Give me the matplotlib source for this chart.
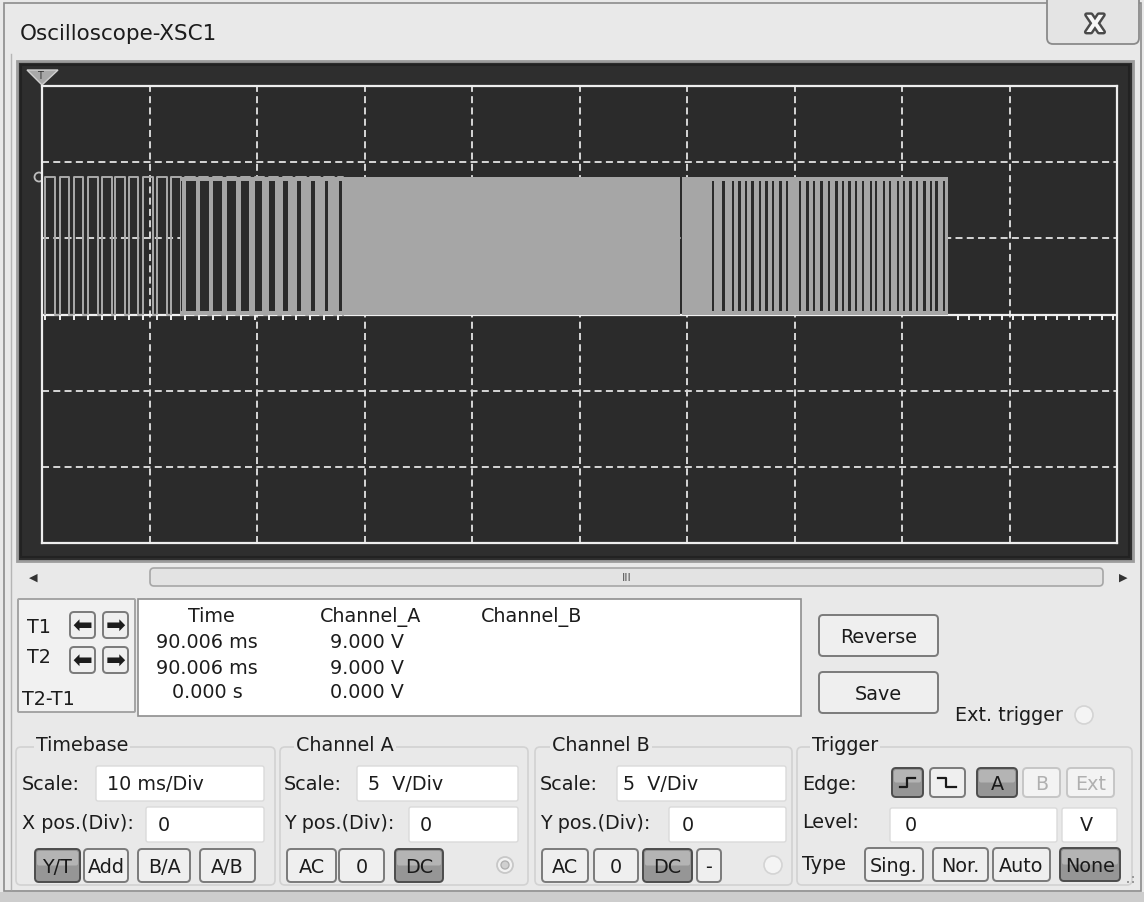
#!/usr/bin/env python3
"""
Oscilloscope-XSC1 window: PWM burst on channel A, 10 ms/Div, 5 V/Div
"""

import matplotlib.pyplot as plt
import matplotlib.patheffects as pe
from matplotlib.patches import FancyBboxPatch, Rectangle, Circle, Polygon

plt.rcParams['font.family'] = ['DejaVu Sans']

# ---- scope settings / readings ----
time_div_ms = 10
volt_div = 5
n_xdiv, n_ydiv = 10, 6
high_v = 9.0

# slow pulses at the start of the burst (ms)
rise_ms = [0.28, 1.67, 2.98, 4.31, 5.55, 6.79, 8.09, 9.43, 10.72, 12.02,
           13.31, 14.61, 15.90, 17.20, 18.49, 19.79, 21.08, 22.38, 23.67,
           24.97, 26.26, 27.56]
fall_ms = [1.21, 2.54, 3.84, 5.18, 6.48, 7.72, 8.96, 10.30, 11.60, 12.89,
           14.19, 15.48, 16.78, 18.07, 19.37, 20.66, 21.96, 23.25, 24.55,
           25.84, 27.14, 28.00]

# spans (ms) where switching is too fast to resolve -> solid band
dense_ms = [(12.9, 59.35), (59.55, 84.3)]
# quiet gaps inside the solid band (centre ms, width ms)
gap_centre_ms = [12.95, 13.83, 15.11, 16.35, 17.63, 18.89, 20.14, 21.38, 22.65,
                 23.92, 25.20, 26.46, 27.74,
                 62.4, 63.4, 64.3, 64.9, 65.5, 66.1, 66.8, 67.4, 68.0, 68.7,
                 69.3, 70.5, 71.2, 71.8, 72.5, 73.2, 73.9, 74.5, 75.1, 75.7,
                 76.4, 77.1, 77.6, 78.3, 78.9, 79.6, 80.2, 80.8, 81.4, 82.1,
                 82.7, 83.2, 83.9]
gap_width_ms = [0.1, 0.95, 0.9, 0.8, 0.75, 0.7, 0.6, 0.5, 0.45, 0.4, 0.35,
                0.3, 0.25,
                0.22, 0.22, 0.22, 0.22, 0.22, 0.22, 0.22, 0.22, 0.22, 0.22,
                0.22, 0.22, 0.22, 0.22, 0.22, 0.22, 0.22, 0.22, 0.22, 0.22,
                0.22, 0.22, 0.22, 0.22, 0.22, 0.22, 0.22, 0.22, 0.22, 0.22,
                0.22, 0.22, 0.22]
# little ripple notches on the 0 V line after the burst (ms)
ripple_ms = [85.2, 86.2, 87.3, 88.2, 89.3, 90.3, 91.3, 92.4, 93.4, 94.4,
             95.5, 96.5, 97.5, 98.6, 99.6]

cursor_cols = ['Time', 'Channel_A', 'Channel_B']
cursor_time = ['90.006 ms', '90.006 ms', '0.000 s']
cursor_cha = ['9.000 V', '9.000 V', '0.000 V']

W, H = 1144, 903
BG = '#e9e9e9'
TXT = '#1c1c1c'
FS = 13.8

fig = plt.figure(figsize=(W / 100, H / 100), dpi=100)
fig.patch.set_facecolor(BG)

ui = fig.add_axes([0, 0, 1, 1])
ui.set_xlim(0, W)
ui.set_ylim(H, 0)
ui.axis('off')


def box(x0, y0, x1, y1, fc='none', ec='#9a9a9a', lw=1.2, r=3, z=1):
    p = FancyBboxPatch((x0, y0), x1 - x0, y1 - y0,
                       boxstyle=f'round,pad=0,rounding_size={r}',
                       fc=fc, ec=ec, lw=lw, zorder=z)
    ui.add_patch(p)


def txt(x, y, s, ha='left', fs=FS, color=TXT, **kw):
    ui.text(x, y, s, ha=ha, va='center', fontsize=fs, color=color, **kw)


def button(x0, x1, y0, y1, label, state='normal', fs=FS):
    if state == 'pressed':
        fc, ec, tc = '#969696', '#4c4c4c', '#1a1a1a'
    elif state == 'disabled':
        fc, ec, tc = '#f3f3f3', '#c6c6c6', '#b0b0b0'
    else:
        fc, ec, tc = '#efefef', '#7a7a7a', TXT
    box(x0, y0, x1, y1, fc=fc, ec=ec, lw=1.4, r=4, z=2)
    if state == 'pressed':
        box(x0 + 2, y0 + 2, x1 - 2, (y0 + y1) / 2, fc='#b4b4b4', ec='none', r=2, z=2)
    if label:
        txt((x0 + x1) / 2, (y0 + y1) / 2 + 1, label, ha='center', fs=fs, color=tc, zorder=3)


def field(x0, x1, y0, y1, s=None, tx=None):
    box(x0, y0, x1, y1, fc='white', ec='#dadada', lw=1.0, r=2, z=1)
    if s is not None:
        txt(tx, (y0 + y1) / 2, s)


# ---- window frame ----
ui.add_patch(Rectangle((4, 4), 1137, 888, fc=BG, ec='#8c8c8c', lw=1.2, zorder=0))
ui.add_patch(Rectangle((0, 893), W, 10, fc='#cdcdcd', ec='none', zorder=0))
ui.plot([11, 11], [55, 890], color='#b5b5b5', lw=1)
txt(20, 34, 'Oscilloscope-XSC1', fs=15.5)

# close button
box(1047, -6, 1139, 45, fc='#e4e4e4', ec='#8a8a8a', lw=1.3, r=6)
ui.text(1095, 26, 'X', ha='center', va='center', fontsize=17, fontweight='bold',
        color='#f8f8f8', zorder=3,
        path_effects=[pe.withStroke(linewidth=3.5, foreground='#4a4a4a')])

# dark screen panel
ui.add_patch(Rectangle((17, 62), 1116, 500, fc='#2e2e2e', ec='#9c9c9c', lw=2, zorder=1))
ui.add_patch(Rectangle((21, 66), 1108, 492, fc='none', ec='#222222', lw=1.5, zorder=1))

# ---- scope screen ----
px0, py0, px1, py1 = 42, 87, 1117, 544
scope = fig.add_axes([px0 / W, 1 - py1 / H, (px1 - px0) / W, (py1 - py0) / H])
t_max = n_xdiv * time_div_ms
v_max = n_ydiv / 2 * volt_div
scope.set_xlim(0, t_max)
scope.set_ylim(-v_max, v_max)
scope.set_facecolor('#2b2b2b')
scope.set_xticks([])
scope.set_yticks([])
for s in scope.spines.values():
    s.set_color('#eeeeee')
    s.set_linewidth(1.6)

dash = (0, (3.6, 2.2))
for k in range(1, n_xdiv):
    scope.axvline(k * time_div_ms, color='#d6d6d6', lw=1.4, ls=dash, zorder=1)
for k in range(1, n_ydiv):
    scope.axhline(-v_max + k * volt_div, color='#d6d6d6', lw=1.4, ls=dash, zorder=1)

# 0 V baseline
scope.axhline(0, color='#f0f0f0', lw=1.6, zorder=3)

# slow outline pulses
tt, vv = [], []
for r, f in zip(rise_ms, fall_ms):
    tt += [r, r, f, f]
    vv += [0, high_v, high_v, 0]
scope.plot(tt, vv, color='#ababab', lw=1.4, zorder=4)
scope.vlines(rise_ms, -0.35, 0, color='#f0f0f0', lw=1.4, zorder=4)

# solid fast-switching band with its quiet gaps
scope.broken_barh([(a, b - a) for a, b in dense_ms], (0, high_v),
                  facecolor='#a6a6a6', edgecolor='none', zorder=5)
scope.broken_barh([(c - w / 2, w) for c, w in zip(gap_centre_ms, gap_width_ms)],
                  (0.25, high_v - 0.5), facecolor='#2b2b2b', edgecolor='none', zorder=6)
scope.vlines(ripple_ms, -0.35, 0, color='#f0f0f0', lw=1.4, zorder=4)

# trigger marker and channel level marker
ui.add_patch(Polygon([[27, 71], [58, 71], [42, 86]], closed=True, fc='#a8a8a8', ec='#cfcfcf', lw=1, zorder=5))
txt(40, 76, 'T', ha='center', fs=7, color='#333333', zorder=6)
ui.add_patch(Circle((39, 178), 4.5, fc='none', ec='#bdbdbd', lw=1.3, zorder=5))

# ---- scroll bar ----
txt(33, 578, '◀', ha='center', fs=8, color='#333333')
box(150, 569, 1103, 587, fc='#e3e3e3', ec='#a6a6a6', lw=1.2, r=4)
txt(627, 578, 'III', ha='center', fs=8, color='#555555')
txt(1123, 578, '▶', ha='center', fs=8, color='#333333')

# ---- cursor readout ----
box(18, 600, 135, 713, fc='#f1f1f1', ec='#a4a4a4', lw=1.4, r=1)
ui.add_patch(Rectangle((138, 600), 663, 117, fc='white', ec='#8e8e8e', lw=1.2, zorder=1))
txt(27, 628, 'T1')
txt(27, 658, 'T2')
txt(22, 700, 'T2-T1')
for yy in (626, 661):
    button(70, 95, yy - 13, yy + 13, '')
    button(103, 128, yy - 13, yy + 13, '')
    txt(82.5, yy, '⬅', ha='center', fs=17, zorder=4)
    txt(115.5, yy, '➡', ha='center', fs=17, zorder=4)

col_x = [211, 371, 532]
for x, s in zip(col_x, cursor_cols):
    txt(x, 617, s, ha='center')
for y, a, b in zip([643, 669, 693], cursor_time, cursor_cha):
    txt(207, y, a, ha='center')
    txt(367, y, b, ha='center')

button(819, 938, 616, 657, 'Reverse')
button(819, 938, 673, 714, 'Save')
txt(955, 716, 'Ext. trigger')
ui.add_patch(Circle((1084, 716), 9, fc='#f4f4f4', ec='#d4d4d4', lw=1.2, zorder=2))


# ---- control groups ----
def group(x0, x1, label, lx):
    box(x0, 748, x1, 886, ec='#d2d2d2', lw=1.2, r=5)
    txt(lx, 746, label, bbox=dict(fc=BG, ec='none', pad=1.5))


group(16, 275, 'Timebase', 36)
txt(22, 785, 'Scale:')
field(96, 264, 767, 802, '10 ms/Div', 107)
txt(22, 824, 'X pos.(Div):')
field(146, 264, 808, 843, '0', 158)
button(35, 80, 850, 883, 'Y/T', 'pressed')
button(84, 128, 850, 883, 'Add')
button(138, 190, 850, 883, 'B/A')
button(200, 255, 850, 883, 'A/B')

group(280, 528, 'Channel A', 296)
txt(284, 785, 'Scale:')
field(357, 518, 767, 802, '5  V/Div', 368)
txt(284, 824, 'Y pos.(Div):')
field(409, 518, 808, 843, '0', 420)
button(287, 336, 850, 883, 'AC')
button(339, 384, 850, 883, '0')
button(395, 443, 850, 883, 'DC', 'pressed')
ui.add_patch(Circle((505, 866), 8, fc='#f2f2f2', ec='#c8c8c8', lw=1.3, zorder=2))
ui.add_patch(Circle((505, 866), 4, fc='#d0d0d0', ec='#b0b0b0', lw=1, zorder=3))

group(535, 792, 'Channel B', 552)
txt(540, 785, 'Scale:')
field(617, 786, 767, 802, '5  V/Div', 623)
txt(540, 824, 'Y pos.(Div):')
field(669, 786, 808, 843, '0', 682)
button(542, 588, 850, 883, 'AC')
button(594, 638, 850, 883, '0')
button(643, 692, 850, 883, 'DC', 'pressed')
button(697, 721, 850, 883, '-')
ui.add_patch(Circle((773, 866), 9, fc='#f4f4f4', ec='#d4d4d4', lw=1.2, zorder=2))

group(797, 1132, 'Trigger', 812)
txt(802, 785, 'Edge:')
button(892, 923, 769, 798, '', 'pressed')
button(930, 965, 769, 798, '')
ui.plot([900, 907, 907, 915], [788, 788, 779, 779], color='#1a1a1a', lw=1.6, zorder=4)
ui.plot([938, 946, 946, 956], [779, 779, 788, 788], color='#1a1a1a', lw=1.6, zorder=4)
button(977, 1017, 769, 798, 'A', 'pressed')
button(1023, 1060, 769, 798, 'B', 'disabled')
button(1067, 1114, 769, 798, 'Ext', 'disabled')
txt(802, 823, 'Level:')
field(890, 1057, 809, 843, '0', 905)
field(1062, 1117, 809, 843, 'V', 1080)
txt(802, 865, 'Type')
button(865, 923, 849, 882, 'Sing.')
button(933, 988, 849, 882, 'Nor.')
button(993, 1050, 849, 882, 'Auto')
button(1060, 1120, 849, 882, 'None', 'pressed')
for (gx, gy) in [(1133, 878), (1128, 883), (1133, 883)]:
    ui.add_patch(Rectangle((gx - 1, gy - 1), 2, 2, fc='#9a9a9a', ec='none', zorder=2))

plt.savefig('out.png', dpi=100, facecolor=BG)
